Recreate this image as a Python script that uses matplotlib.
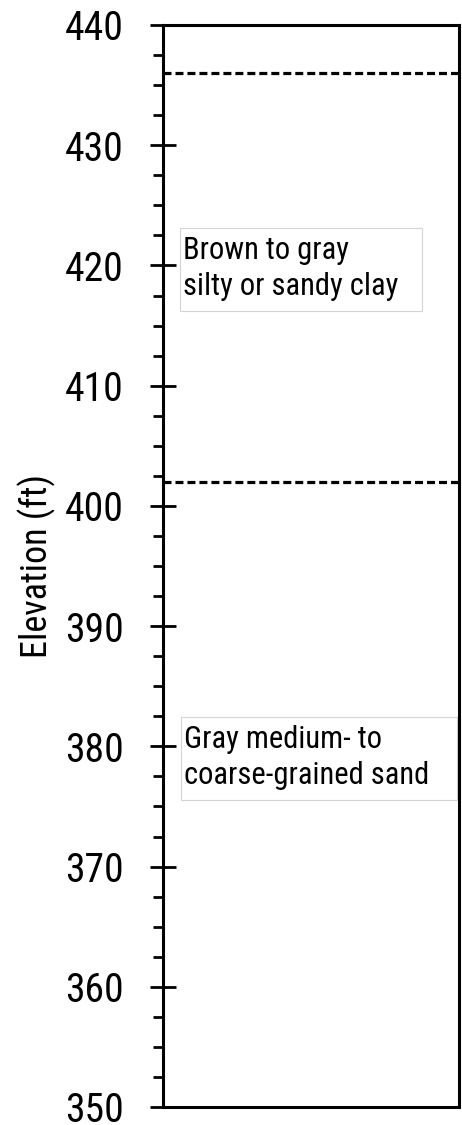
import matplotlib.pyplot as plt
from matplotlib.patches import Rectangle
from matplotlib.ticker import MultipleLocator

# layer boundaries (elevation, ft)
boundaries = [436, 402]

# layer descriptions: label, text top elevation, box bottom/top elevation
layer_labels = ["Brown to gray\nsilty or sandy clay", "Gray medium- to\ncoarse-grained sand"]
label_tops = [422.45, 381.75]
box_bottoms = [416.2, 375.5]
box_tops = [423.1, 382.4]
box_lefts = [0.057, 0.061]
box_rights = [0.875, 0.993]

ymin, ymax = 350, 440

plt.rcParams["font.family"] = ["Roboto Condensed", "Liberation Sans Narrow", "DejaVu Sans"]

fig = plt.figure(figsize=(4.62, 11.25), dpi=100)
ax = fig.add_axes([163 / 462, 18 / 1125, 296 / 462, 1082 / 1125])

ax.set_xlim(0, 1)
ax.set_ylim(ymin, ymax)

for b in boundaries:
    ax.axhline(b, color="black", lw=2.3, linestyle=(0, (2.5, 1.25)))

for lab, top, b0, b1, x0, x1 in zip(layer_labels, label_tops, box_bottoms, box_tops, box_lefts, box_rights):
    ax.add_patch(Rectangle((x0, b0), x1 - x0, b1 - b0, fill=False,
                           edgecolor="#d4d4d4", lw=0.8))
    ax.text(x0 + 0.01, top, lab, fontsize=22, va="top", ha="left", linespacing=1.3)

ax.yaxis.set_major_locator(MultipleLocator(10))
ax.yaxis.set_minor_locator(MultipleLocator(2.5))
ax.tick_params(axis="y", which="major", direction="inout", length=19, width=2,
               labelsize=28.5, pad=19)
ax.tick_params(axis="y", which="minor", direction="out", length=7.5, width=2)
ax.set_xticks([])

for s in ax.spines.values():
    s.set_linewidth(2.2)

ax.set_ylabel("Elevation (ft)", fontsize=26, labelpad=6)

fig.savefig("out.png", dpi=100)
